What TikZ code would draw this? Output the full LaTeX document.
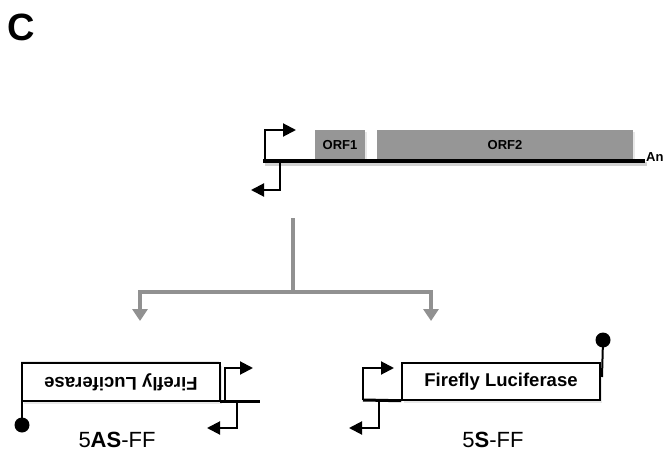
\documentclass[tikz,border=0pt]{standalone}
\usepackage{fontspec}
\setmainfont{Liberation Sans}
\usetikzlibrary{arrows.meta,shadows}
\definecolor{orfgray}{RGB}{150,150,150}
\definecolor{linegray}{RGB}{145,145,145}
\begin{document}
\begin{tikzpicture}[x=1pt,y=-1pt,
  shad/.style={drop shadow={opacity=0.18, shadow xshift=1.5pt, shadow yshift=-2.5pt}},
  orf/.style={draw=none, fill=orfgray, minimum height=30pt, inner sep=0pt,
    font=\bfseries\fontsize{13}{15}\selectfont, shad},
  ffbox/.style={draw, line width=1.5pt, fill=white, minimum width=198pt,
    minimum height=38pt, inner sep=0pt, font=\bfseries\fontsize{18.5}{20}\selectfont},
  dna/.style={line width=4pt},
  dnab/.style={line width=3pt},
  prom/.style={line width=2pt, -{Triangle[length=13pt,width=13pt]}},
  gline/.style={line width=4pt, draw=linegray},
  garrow/.style={gline, -{Triangle[length=12pt,width=15pt]}, color=linegray},
  term/.style={circle, fill=black, minimum size=15pt, inner sep=0pt},
  stem/.style={line width=2pt},
  lbl/.style={font=\fontsize{22}{26}\selectfont, inner sep=0pt},
]
\useasboundingbox (0,0) rectangle (666,457);

% panel letter
\node[font=\bfseries\fontsize{38}{40}\selectfont, inner sep=0pt] (panel) at (21,27) {C};

% top construct
\node[orf, minimum width=50pt] (orf1) at (340,145) {ORF1};
\node[orf, minimum width=256pt] (orf2) at (505,145) {ORF2};
\coordinate (dnaL) at (263,161);
\coordinate (dnaR) at (645,161);
\draw[dna, black!18] ([shift={(1.5,3)}]dnaL) -- ([shift={(1.5,3)}]dnaR);
\draw[dna] (dnaL) -- (dnaR);
\node[font=\bfseries\fontsize{13}{15}\selectfont, inner sep=0pt, anchor=west] (polyA) at (646,157) {An};
\coordinate (pf) at (265,161);
\coordinate (pfTip) at (296,130);
\draw[prom] (pf) |- (pfTip);
\coordinate (pr) at (280,161);
\coordinate (prTip) at (251,190);
\draw[prom] (pr) |- (prTip);

% gray splitting arrow
\coordinate (gtop) at (293,218);
\coordinate (gsplit) at (293,292);
\coordinate (gleft) at (140,321);
\coordinate (gright) at (431,321);
\draw[gline] (gtop) -- (gsplit);
\draw[garrow] (gsplit) -| (gleft);
\draw[garrow] (gsplit) -| (gright);

% bottom left: 5AS-FF
\node[ffbox, shad, rotate=180, drop shadow={opacity=0.18, shadow xshift=-1.5pt, shadow yshift=2.5pt}] (ffL) at (121,382) {Firefly Luciferase};
\coordinate (lineLend) at (260,401);
\draw[dnab] (220,401) -- (lineLend);
\coordinate (lpf) at (225,401);
\coordinate (lpfTip) at (253,368);
\draw[prom] (lpf) |- (lpfTip);
\coordinate (lpr) at (237,401);
\coordinate (lprTip) at (207,428);
\draw[prom] (lpr) |- (lprTip);
\node[term] (termL) at (22,425) {};
\coordinate (termLtop) at (22,387);
\draw[stem] (termL.center) -- (termLtop);
\node[lbl] (lblL) at (117,440) {5\textbf{AS}-FF};

% bottom right: 5S-FF
\node[ffbox, shad, minimum height=37pt] (ffR) at (501,381.5) {Firefly Luciferase};
\coordinate (lineRstart) at (363,400);
\draw[dnab] (lineRstart) -- (ffR.south west);
\coordinate (rprTop) at (379,400);
\coordinate (rpfTip) at (394,368);
\draw[prom] (lineRstart) |- (rpfTip);
\coordinate (rprTip) at (349,428);
\draw[prom] (rprTop) |- (rprTip);
\node[term] (termR) at (603,340) {};
\coordinate (termRbot) at (602,377);
\draw[stem] (termR.center) -- (termRbot);
\node[lbl] (lblR) at (493,440) {5\textbf{S}-FF};
\end{tikzpicture}
\end{document}
